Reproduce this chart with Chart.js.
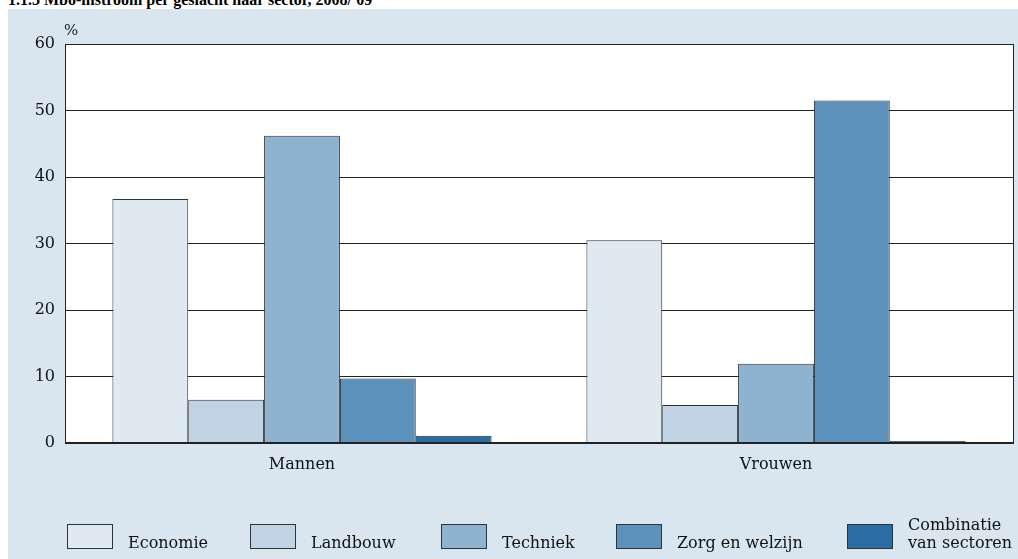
<!DOCTYPE html>
<html>
<head>
<meta charset="utf-8">
<script src="https://cdn.jsdelivr.net/npm/chart.js@4/dist/chart.umd.min.js"></script>
<style>
  body { margin: 0; background: #fff; width: 1018px; height: 559px; overflow: hidden; position: relative; }
  #titel { position: absolute; left: 8px; top: -9px; font: bold 16px "Liberation Serif", serif; color: #000; white-space: nowrap; }
  #kader { position: absolute; left: 8px; top: 9px; width: 1010px; height: 550px; background: #d9e5ef; }
</style>
</head>
<body>
<div id="titel">1.1.3 Mbo-instroom per geslacht naar sector, 2008/'09</div>
<div id="kader"><canvas id="grafiek" width="1010" height="550"></canvas></div>
<script>
// Categorieën en reeksen (in %)
const geslachten = ["Mannen", "Vrouwen"];
const sectoren = ["Economie", "Landbouw", "Techniek", "Zorg en welzijn", "Combinatie van sectoren"];
const legendaRegels = [["Economie"], ["Landbouw"], ["Techniek"], ["Zorg en welzijn"], ["Combinatie", "van sectoren"]];
const economie = [36.7, 30.5];
const landbouw = [6.5, 5.7];
const techniek = [46.2, 11.9];
const zorgWelzijn = [9.7, 51.5];
const combinatie = [1.1, 0.3];
const yTicks = [0, 10, 20, 30, 40, 50, 60];

const kleuren = ["#dfe9f1", "#bfd3e4", "#8eb3d1", "#5b91bb", "#2a6ca3"];
const reeksen = [economie, landbouw, techniek, zorgWelzijn, combinatie];
const lettertype = "'DejaVu Serif', serif";
// x-positie van de legendavakjes (canvas-coördinaten)
const legendaX = [59, 242, 433, 608, 839];

// Witte achtergrond en kader rond het plotgebied
const kaderPlugin = {
  id: "kader",
  beforeDraw(chart) {
    const { ctx, chartArea: a } = chart;
    ctx.save();
    ctx.fillStyle = "#fff";
    ctx.fillRect(a.left, a.top, a.right - a.left, a.bottom - a.top);
    ctx.restore();
  },
  afterDatasetsDraw(chart) {
    const { ctx, chartArea: a } = chart;
    ctx.save();
    ctx.strokeStyle = "#222";
    ctx.lineWidth = 1;
    ctx.strokeRect(Math.round(a.left) + 0.5, Math.round(a.top) + 0.5, Math.round(a.right - a.left), Math.round(a.bottom - a.top));
    ctx.lineWidth = 2;
    ctx.beginPath();
    ctx.moveTo(a.left, Math.round(a.bottom));
    ctx.lineTo(a.right + 1, Math.round(a.bottom));
    ctx.stroke();
    // eenheid
    ctx.fillStyle = "#222";
    ctx.font = "15px " + lettertype;
    ctx.textAlign = "left";
    ctx.textBaseline = "alphabetic";
    ctx.fillText("%", a.left - 1, a.top - 9);
    ctx.restore();
  },
};

// Eigen legenda onderaan
const legendaPlugin = {
  id: "legenda",
  afterDraw(chart) {
    const ctx = chart.ctx;
    ctx.save();
    ctx.font = "16px " + lettertype;
    ctx.textBaseline = "alphabetic";
    chart.data.datasets.forEach((ds, i) => {
      const x = legendaX[i];
      ctx.fillStyle = ds.backgroundColor;
      ctx.fillRect(x, 515, 45, 24);
      ctx.strokeStyle = "#333";
      ctx.lineWidth = 1;
      ctx.strokeRect(x + 0.5, 515.5, 45, 24);
      ctx.fillStyle = "#111";
      const regels = legendaRegels[i];
      regels.forEach((r, j) => {
        const y = 539 - (regels.length - 1 - j) * 18;
        ctx.fillText(r, x + 61, y);
      });
    });
    ctx.restore();
  },
};

new Chart(document.getElementById("grafiek"), {
  type: "bar",
  data: {
    labels: geslachten,
    datasets: sectoren.map((s, i) => ({
      label: s,
      data: reeksen[i],
      backgroundColor: kleuren[i],
      borderColor: "#333",
      borderWidth: 1,
      barPercentage: 1,
      categoryPercentage: 0.8,
    })),
  },
  options: {
    responsive: false,
    animation: false,
    layout: { padding: { top: 35, right: 5, left: 0, bottom: 76 } },
    plugins: { legend: { display: false }, tooltip: { enabled: false } },
    scales: {
      x: {
        grid: { display: false },
        border: { display: false },
        ticks: { color: "#111", font: { family: lettertype, size: 16 }, padding: 4 },
        afterFit: (s) => { s.height = 40; },
      },
      y: {
        min: 0,
        max: 60,
        afterBuildTicks: (s) => { s.ticks = yTicks.map((v) => ({ value: v })); },
        grid: { color: "#222", lineWidth: 1, drawTicks: false },
        border: { display: false },
        ticks: { color: "#111", font: { family: lettertype, size: 16 }, padding: 10 },
        afterFit: (s) => { s.width = 57; },
      },
    },
  },
  plugins: [kaderPlugin, legendaPlugin],
});
</script>
</body>
</html>
